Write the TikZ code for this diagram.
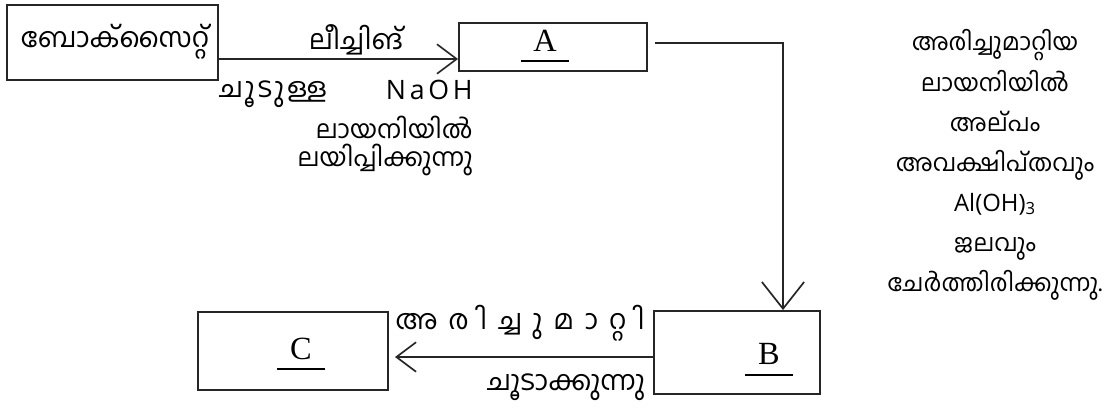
\documentclass[tikz,border=0pt]{standalone}
\usepackage{fontspec}
\usetikzlibrary{arrows.meta}
\setmainfont{Liberation Serif}
\newfontfamily\mlfont[Script=Malayalam]{Hind Kochi}
\newfontfamily\mlwide[Script=Malayalam,LetterSpace=10]{Hind Kochi}
\newfontfamily\mlwider[Script=Malayalam,LetterSpace=40]{Hind Kochi}
\newfontfamily\lafont{Open Sans}
\newfontfamily\lawide[LetterSpace=14]{Open Sans}
\newcommand{\letterbar}[1]{\makebox[34pt]{#1}\llap{\rule[-8pt]{34pt}{1.4pt}}}

\tikzset{
	box/.style={draw=black!85,line width=1.3pt,inner sep=0pt},
	arr/.style={draw=black!85,line width=1.2pt,-{Straight Barb[length=14pt,width=21pt,line width=1.2pt]}},
	ml/.style={font=\mlfont\fontsize{19.5}{28.5}\selectfont,inner sep=0pt},
	letter/.style={font=\fontsize{23}{26}\selectfont,inner sep=0pt}
}

\begin{document}
\begin{tikzpicture}[x=0.025cm,y=-0.025cm]
			\useasboundingbox (0,0) rectangle (1110,408);
			\draw (112.5,42.5) node [box,minimum width=5.275cm,minimum height=1.875cm] (bauxite) {};
			\draw (115,42) node [ml] (bauxiteText) {ബോക്സൈറ്റ്};
			\draw (553,47) node [box,minimum width=4.7cm,minimum height=1.2cm] (A) {};
			\draw (545,46) node [letter] (aLetter) {\letterbar{A}};
			\draw (737,352.5) node [box,minimum width=4.15cm,minimum height=2.075cm] (B) {};
			\draw (769,360) node [letter] (bLetter) {\letterbar{B}};
			\draw (293,351) node [box,minimum width=4.75cm,minimum height=1.95cm] (C) {};
			\draw (301,354) node [letter] (cLetter) {\letterbar{C}};
			% labels on the leaching arrow
			\draw (356,40) node [ml] (leach) {ലീച്ചിങ്};
			\draw (273,94) node [ml,font=\mlwide\fontsize{19.5}{28.5}\selectfont] (hot) {ചൂടുള്ള};
			\draw (473,90) node [anchor=east,inner sep=0pt,font=\lawide\fontsize{19}{22}\selectfont] (naoh) {NaOH};
			\draw (473,127) node [ml,anchor=east,font=\mlfont\fontsize{18}{28.5}\selectfont] (solution) {ലായനിയിൽ};
			\draw (473,160) node [ml,anchor=east,font=\mlfont\fontsize{18}{28.5}\selectfont] (dissolve) {ലയിപ്പിക്കുന്നു};
			% note beside the down arrow
			\draw (995,165) node [ml,align=center,font=\mlfont\fontsize{17}{28.5}\selectfont] (note) {അരിച്ചുമാറ്റിയ\\ലായനിയിൽ\\അല്‌പം\\അവക്ഷിപ്‌തവും\\{\lafont Al(OH)\textsubscript{3}}\\ജലവും\\ചേർത്തിരിക്കുന്നു.};
			% labels on the bottom arrow
			\draw (520,323) node [ml,font=\mlwider\fontsize{19.5}{28.5}\selectfont] (filter) {അരിച്ചുമാറ്റി};
			\draw (566,387) node [ml] (heat) {ചൂടാക്കുന്നു};
			\coordinate (p1) at (218,59);
			\coordinate (q1) at (655,43);
			\coordinate (q2) at (783,43);
			\coordinate (r1) at (654,357);
			\coordinate (r2) at (395,357);
			\draw[arr] (p1) -- (p1 -| A.west);
			\draw[arr,-{Straight Barb[length=19pt,width=30pt,line width=1.2pt]}] (q1) -- (q2) -- (q2 |- B.north);
			\draw[arr] (r1) -- (r2);
		\end{tikzpicture}
\end{document}
